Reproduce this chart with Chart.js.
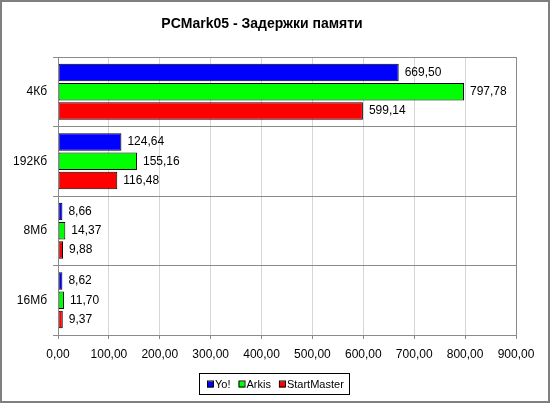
<!DOCTYPE html>
<html>
<head>
<meta charset="utf-8">
<script src="https://cdn.jsdelivr.net/npm/chart.js@4/dist/chart.umd.min.js"></script>
<style>
  html, body { margin: 0; padding: 0; background: #fff; }
  #wrap { width: 550px; height: 403px; position: relative; }
</style>
</head>
<body>
<div id="wrap"><canvas id="chart"></canvas></div>
<script>
// --- DATA ---
const TITLE = "PCMark05 - Задержки памяти";
const categories = ["4Кб", "192Кб", "8Мб", "16Мб"];
const yoValues = [669.50, 124.64, 8.66, 8.62];
const arkisValues = [797.78, 155.16, 14.37, 11.70];
const startMasterValues = [599.14, 116.48, 9.88, 9.37];
const xTicks = [0, 100, 200, 300, 400, 500, 600, 700, 800, 900];

const FONT = "'Liberation Sans', Arial, sans-serif";
const fmt = v => v.toFixed(2).replace('.', ',');

// рамка, заголовок, подписи значений, легенда
const decor = {
  id: 'decor',
  beforeDraw(chart) {
    const { ctx, width, height } = chart;
    ctx.save();
    ctx.fillStyle = '#fff';
    ctx.fillRect(0, 0, width, height);
    ctx.restore();
  },
  afterDraw(chart) {
    const { ctx, width, height, chartArea: a } = chart;
    ctx.save();

    // рамка области построения
    ctx.strokeStyle = '#8a8a8a';
    ctx.lineWidth = 1;
    ctx.strokeRect(Math.round(a.left) + 0.5, Math.round(a.top) + 0.5,
      Math.round(a.right - a.left), Math.round(a.bottom - a.top));

    // подписи значений
    ctx.fillStyle = '#000';
    ctx.font = '12px ' + FONT;
    ctx.textAlign = 'left';
    ctx.textBaseline = 'middle';
    chart.data.datasets.forEach((ds, i) => {
      chart.getDatasetMeta(i).data.forEach((bar, j) => {
        ctx.fillText(fmt(ds.data[j]), bar.x + 6, bar.y);
      });
    });

    // заголовок
    ctx.font = 'bold 14px ' + FONT;
    ctx.textAlign = 'center';
    ctx.fillText(TITLE, 262, 24);

    // легенда
    const lx = 199, ly = 373, lw = 150, lh = 21;
    ctx.strokeStyle = '#000';
    ctx.strokeRect(lx + 0.5, ly + 0.5, lw, lh);
    ctx.font = '11px ' + FONT;
    ctx.textAlign = 'left';
    let x = lx + 8;
    const cy = ly + lh / 2 + 1;
    chart.data.datasets.forEach(ds => {
      ctx.fillStyle = ds.backgroundColor;
      ctx.fillRect(x, cy - 3, 6, 6);
      ctx.strokeStyle = '#000';
      ctx.strokeRect(x + 0.5, cy - 3.5, 6, 6);
      ctx.fillStyle = '#000';
      ctx.fillText(ds.label, x + 8, cy);
      x += 8 + ctx.measureText(ds.label).width + 8;
    });

    // внешняя рамка
    ctx.strokeStyle = '#7f7f7f';
    ctx.lineWidth = 2;
    ctx.strokeRect(1, 1, width - 2, height - 2);
    ctx.restore();
  }
};

const barStyle = { borderColor: '#000', borderWidth: 1, borderSkipped: false,
  barPercentage: 0.92, categoryPercentage: 0.83 };

new Chart(document.getElementById('chart'), {
  type: 'bar',
  data: {
    labels: categories,
    datasets: [
      { label: 'Yo!', data: yoValues, backgroundColor: '#0000ff', ...barStyle },
      { label: 'Arkis', data: arkisValues, backgroundColor: '#00ff00', ...barStyle },
      { label: 'StartMaster', data: startMasterValues, backgroundColor: '#ff0000', ...barStyle }
    ]
  },
  options: {
    indexAxis: 'y',
    responsive: true,
    maintainAspectRatio: false,
    animation: false,
    layout: { padding: { left: 0, right: 34, top: 57, bottom: 38 } },
    scales: {
      x: {
        min: 0, max: 900,
        afterBuildTicks: s => { s.ticks = xTicks.map(v => ({ value: v })); },
        afterFit: s => { s.height = 30; },
        grid: { color: '#d6d6d6', tickColor: '#8a8a8a', tickLength: 4 },
        border: { color: '#8a8a8a' },
        ticks: { color: '#000', padding: 8, font: { family: FONT, size: 12 }, callback: v => fmt(v), maxRotation: 0 }
      },
      y: {
        afterFit: s => { s.width = 58; },
        grid: { offset: true, color: '#8a8a8a', tickColor: '#8a8a8a', tickLength: 5 },
        border: { color: '#8a8a8a' },
        ticks: { color: '#000', padding: 6, font: { family: FONT, size: 12 } }
      }
    },
    plugins: {
      legend: { display: false },
      title: { display: false },
      tooltip: { enabled: false }
    }
  },
  plugins: [decor]
});
</script>
</body>
</html>
